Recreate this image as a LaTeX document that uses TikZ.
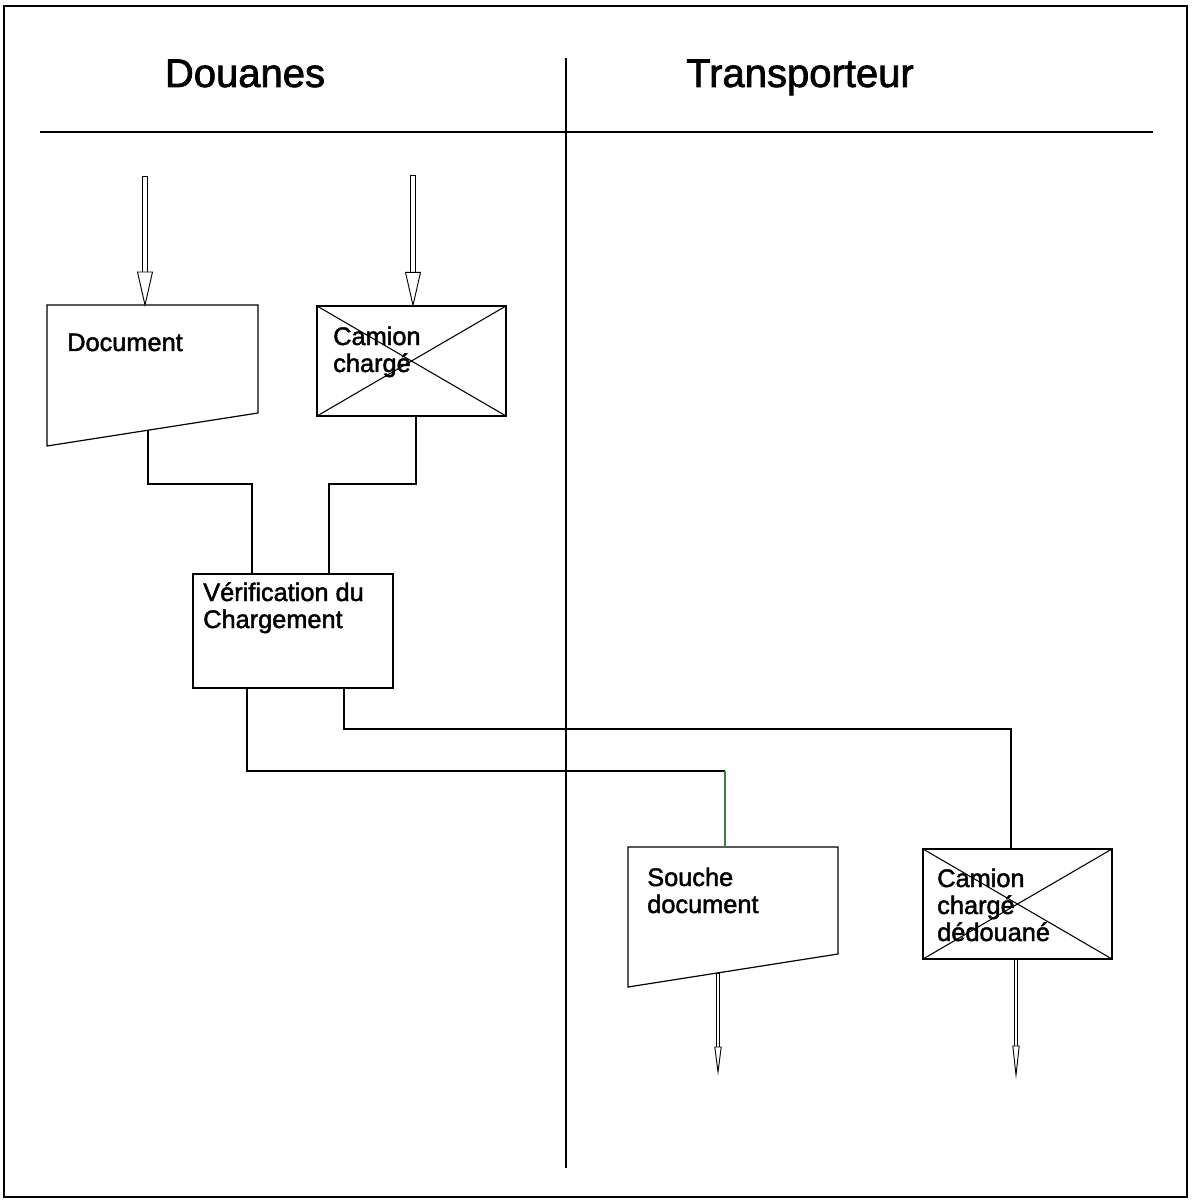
\documentclass[tikz,border=0pt]{standalone}
\usepackage{fontspec}
\setmainfont{Liberation Sans}
\newfontfamily\inkfont{Liberation Sans}[FakeBold=1.8]
\usetikzlibrary{calc,fit}

\definecolor{linegreen}{RGB}{60,130,70}

% left-aligned stack of lines whose baseline is the first line's
\newcommand\linestack[1]{\vtop{\halign{##\hfil\cr#1\crcr}}}

\tikzset{
  frame/.style={line width=1.3pt},
  rule/.style={line width=0.9pt},
  outline/.style={draw, line width=0.9pt},
  xbox/.style={draw, line width=0.9pt, inner sep=0pt,
    path picture={
      \draw[line width=0.8pt] (path picture bounding box.north west) -- (path picture bounding box.south east);
      \draw[line width=0.8pt] (path picture bounding box.south west) -- (path picture bounding box.north east);
    }},
  plainbox/.style={draw, line width=0.9pt, inner sep=0pt},
  title/.style={font=\inkfont\fontsize{30}{36}\selectfont, inner sep=0pt, anchor=base},
  label/.style={font=\inkfont\fontsize{19}{20.25}\selectfont, inner sep=0pt, anchor=base west},
  link/.style={line width=0.8pt},
  shaftline/.style={line width=0.7pt},
  head/.style={draw, fill=white, line width=0.7pt, line join=miter},
}

% hollow arrow from #1 to #2: two-line shaft of half gap #5,
% head of length #3 and half width #4
\newcommand\flowarrow[5]{%
  \draw[shaftline] ($(#1)+(-#5,0)$) -- ($(#2)-(0,#3)+(-#5,2)$);
  \draw[shaftline] ($(#1)+(#5,0)$) -- ($(#2)-(0,#3)+(#5,2)$);
  \draw[shaftline] ($(#1)+(-#5,0)$) -- ($(#1)+(#5,0)$);
  \draw[head] ($(#2)-(0,#3)+(-#4,0)$) -- ($(#2)-(0,#3)+(#4,0)$) -- (#2) -- cycle;
}

\begin{document}
\begin{tikzpicture}[x=0.75pt, y=-0.75pt]
  \useasboundingbox (0,0) rectangle (1192,1201);

  % outer frame and swimlane rules
  \draw[frame] (4,6) rectangle (1187,1197);
  \draw[rule] (40,132) -- (1153,132);
  \draw[rule] (566,58) -- (566,1168);

  % lane titles
  \node[title] (douanes) at (245,87) {Douanes};
  \node[title] (transporteur) at (800,87) {Transporteur};

  % document shapes (slanted bottom edge)
  \draw[outline] (47,305) -- (258,305) -- (258,413) -- (47,446) -- cycle;
  \node[label] (doc) at (67,351) {Document};
  \coordinate (docin) at (145,305);
  \coordinate (docout) at (148,430);

  \draw[outline] (628,847) -- (838,847) -- (838,954) -- (628,987) -- cycle;
  \node[label] (souche) at (647,886) {\linestack{Souche\cr document}};
  \coordinate (soucheIn) at (725,847);
  \coordinate (soucheOut) at (718,973);

  % crossed boxes (goods)
  \node[xbox, fit={(317,306) (506,416)}] (camion) {};
  \node[label] (camiontxt) at (333,345) {\linestack{Camion\cr chargé}};

  \node[xbox, fit={(923,849) (1112,959)}] (dedouane) {};
  \node[label] (dedouanetxt) at (937,887) {\linestack{Camion\cr chargé\cr dédouané}};

  % process box
  \node[plainbox, fit={(193,574) (393,688)}] (verif) {};
  \node[label] (veriftxt) at (203,601) {\linestack{Vérification du\cr Chargement}};

  % free ends of the in/out flows
  \coordinate (docsrc) at (145,176);
  \coordinate (camsrc) at (413,175);
  \coordinate (souchesink) at (718,1072);
  \coordinate (dedsink) at (1016,1075);

  % incoming flows
  \flowarrow{docsrc}{docin}{33}{7.5}{2.5}
  \flowarrow{camsrc}{camion.north -| camsrc}{33}{7.5}{2.5}

  % outgoing flows
  \flowarrow{soucheOut}{souchesink}{25}{3.2}{1.2}
  \flowarrow{dedouane.south -| dedsink}{dedsink}{29}{3.2}{1.2}

  % links into the verification step
  \draw[link] (docout) -- (148,484) -- (252,484) -- (verif.north -| 252,0);
  \draw[link] (camion.south -| 416,0) -- (416,484) -- (329,484) -- (verif.north -| 329,0);

  % links out of the verification step
  \draw[link] (verif.south -| 247,0) -- (247,771) -- (725,771);
  \draw[link, linegreen] (725,771) -- (soucheIn);
  \draw[link] (verif.south -| 344,0) -- (344,729) -- (1011,729) -- (dedouane.north -| 1011,0);
\end{tikzpicture}
\end{document}
